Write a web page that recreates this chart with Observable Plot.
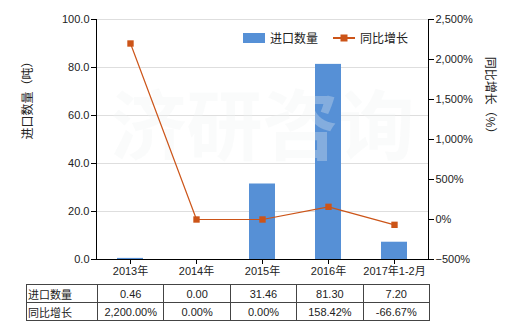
<!DOCTYPE html>
<html><head><meta charset="utf-8">
<script src="https://cdn.jsdelivr.net/npm/d3@7"></script>
<script src="https://cdn.jsdelivr.net/npm/@observablehq/plot@0.6"></script>
<style>
body{margin:0;background:#fff;font-family:"Liberation Sans","Noto Sans CJK SC",sans-serif;}
#wrap{position:relative;width:520px;height:330px;}
#legend{position:absolute;left:243px;top:29px;font-size:12px;color:#222;display:flex;align-items:center;}
table{position:absolute;left:26px;top:284px;border-collapse:collapse;font-size:11px;color:#222;}
td{border:1px solid #444;height:17px;padding:0;text-align:center;width:65.4px;}
td.h{text-align:left;width:69px;padding-left:1px;}
</style></head>
<body><div id="wrap"></div>
<script>
const categories = ["2013年","2014年","2015年","2016年","2017年1-2月"];
const quantity = [0.46, 0.00, 31.46, 81.30, 7.20];
const growth = [2200.00, 0.00, 0.00, 158.42, -66.67];
const quantityLabels = ["0.46","0.00","31.46","81.30","7.20"];
const growthLabels = ["2,200.00%","0.00%","0.00%","158.42%","-66.67%"];
const leftTicks = [0,20,40,60,80,100];
const rightTicks = [-500,0,500,1000,1500,2000,2500];
const seriesNames = ["进口数量","同比增长"];

const barColor = "#5690d6", lineColor = "#cc5418";
const toY = g => (g + 500) / 30;
const fromY = y => Math.round(y * 30 - 500);
const rows = categories.map((c,i)=>({cat:c, q:quantity[i], g:growth[i], gy:toY(growth[i])}));

const chart = Plot.plot({
  width:520, height:280,
  marginTop:19, marginBottom:21, marginLeft:96, marginRight:92,
  style:{fontFamily:'"Liberation Sans","Noto Sans CJK SC",sans-serif', fontSize:"11px", color:"#222"},
  x:{domain:categories, paddingInner:0.6, paddingOuter:0.3},
  y:{domain:[0,100]},
  marks:[
    Plot.gridY([20,40,60,80,100], {stroke:"#dedede", strokeOpacity:1}),
    Plot.barY(rows, {x:"cat", y:"q", fill:barColor}),
    Plot.text(["济研咨询"], {frameAnchor:"middle", dy:-10, fontSize:76, fontWeight:"bold", fill:"#f0f3f3", fillOpacity:0.3}),
    Plot.line(rows, {x:"cat", y:"gy", stroke:lineColor, strokeWidth:1.2}),
    Plot.dot(rows, {x:"cat", y:"gy", symbol:"square", r:3.6, fill:lineColor, stroke:"none"}),
    Plot.frame({anchor:"left", stroke:"#000"}),
    Plot.frame({anchor:"right", stroke:"#000"}),
    Plot.frame({anchor:"bottom", stroke:"#000"}),
    Plot.axisY(leftTicks, {anchor:"left", tickSize:5, tickPadding:2, stroke:"#000", tickFormat:d3.format(".1f"), label:null}),
    Plot.axisY(rightTicks.map(toY), {anchor:"right", tickSize:5, tickPadding:2, stroke:"#000", tickFormat:d => d3.format(",")(fromY(d)) + "%", label:null}),
    Plot.axisX({tickSize:5, tickPadding:3, stroke:"#000", label:null}),
    Plot.text(["进口数量（吨）"], {frameAnchor:"left", dx:-68, rotate:-90, fontSize:12, fill:"#222"}),
    Plot.text(["同比增长（%）"], {frameAnchor:"right", dx:61, rotate:90, fontSize:12, fill:"#222"})
  ]
});
const wrap = document.getElementById("wrap");
wrap.appendChild(chart);

const lg = document.createElement("div");
lg.id = "legend";
lg.innerHTML = `<span style="display:inline-block;width:22px;height:10px;background:${barColor};margin-right:5px"></span><span>${seriesNames[0]}</span>
<svg width="22" height="10" style="margin-left:15px;margin-right:5px"><line x1="0" y1="5" x2="22" y2="5" stroke="${lineColor}" stroke-width="2"/><rect x="7.5" y="1.5" width="7" height="7" fill="${lineColor}"/></svg><span>${seriesNames[1]}</span>`;
wrap.appendChild(lg);

const tbl = document.createElement("table");
[[seriesNames[0], quantityLabels],[seriesNames[1], growthLabels]].forEach(([name, vals])=>{
  const tr = document.createElement("tr");
  const th = document.createElement("td"); th.className="h"; th.textContent=name; tr.appendChild(th);
  vals.forEach(v=>{const td=document.createElement("td"); td.textContent=v; tr.appendChild(td);});
  tbl.appendChild(tr);
});
wrap.appendChild(tbl);
</script></body></html>
